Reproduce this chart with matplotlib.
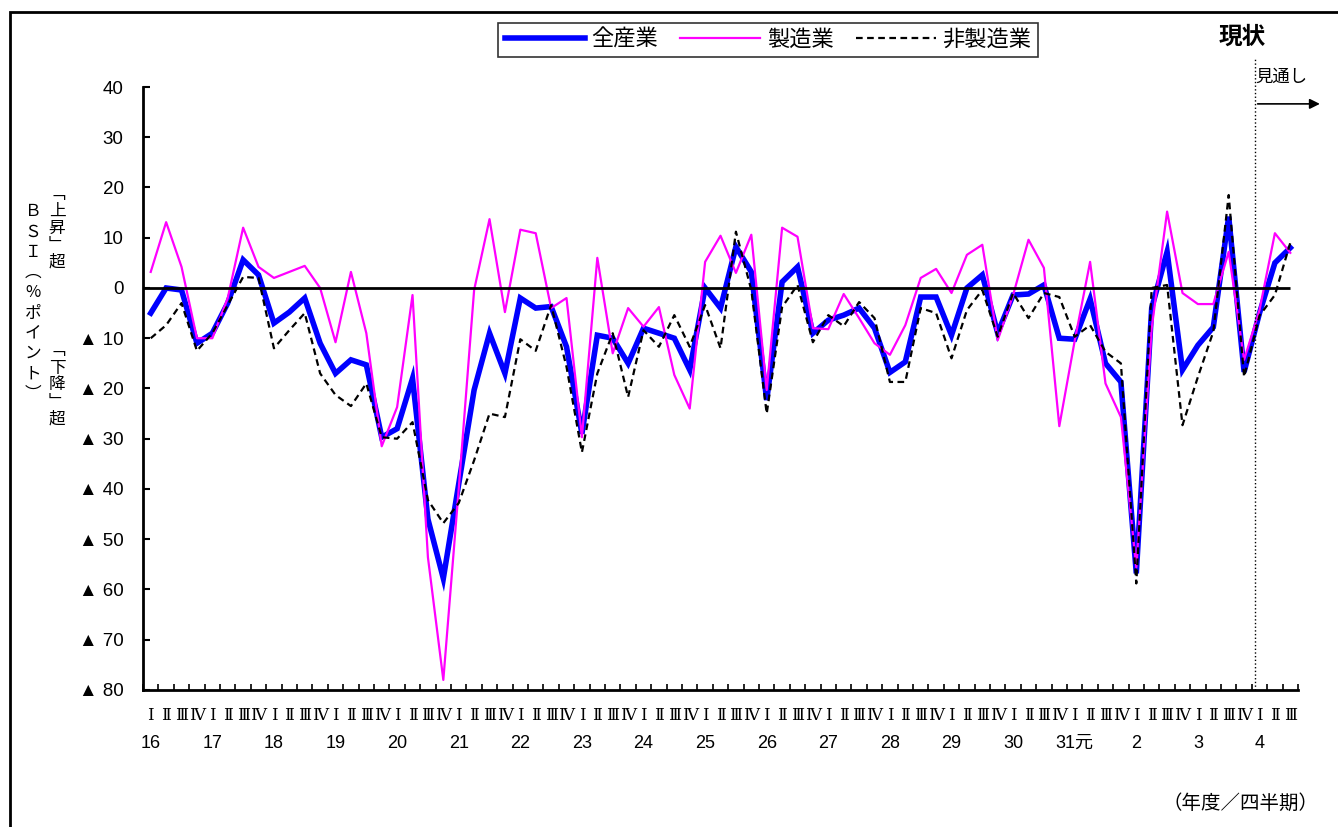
import numpy as np
import matplotlib
matplotlib.use("Agg")
import matplotlib.pyplot as plt
from matplotlib.patches import Rectangle

plt.rcParams['font.family'] = ['Liberation Sans', 'Noto Sans CJK JP']

# data (BSI, %ポイント), quarterly from H16 I to R4 III
years = ['16', '17', '18', '19', '20', '21', '22', '23', '24', '25', '26',
         '27', '28', '29', '30', '31元', '2', '3', '4']
n_quarters = [4] * 18 + [3]
quarter_names = ['Ⅰ', 'Ⅱ', 'Ⅲ', 'Ⅳ']

all_ind = [-5, 0, -0.4, -11, -9, -3, 5.6, 2.6, -7, -4.8, -2, -11, -17, -14.3, -15.3,
           -29.7, -28, -18, -46, -57.8, -39, -20.3, -9, -17, -2, -4, -3.7, -11.7,
           -29, -9.4, -10, -15, -8, -9, -10, -16.3, 0, -4, 8.2, 3.2, -22.3, 1.2,
           4.2, -9, -6.4, -5.4, -4, -8, -16.8, -14.7, -1.8, -1.8, -9.4, 0, 2.6,
           -9, -1.4, -1.2, 0.6, -10, -10.2, -2.2, -15, -18.7, -56.8, -4, 7.2,
           -16.3, -11.4, -7.8, 14.2, -16.7, -5, 5, 8]
manuf = [3.2, 13.1, 4.2, -10, -10, -2, 12, 4.2, 2, 3.2, 4.4, 0, -10.8, 3.2, -9,
         -31.5, -23.7, -1.4, -53.6, -78, -40, -0.4, 13.7, -4.8, 11.6, 10.9, -4,
         -2, -29.7, 6, -13, -4, -7.7, -3.8, -17.3, -24, 5.2, 10.4, 3, 10.6,
         -20.3, 12, 10.2, -8, -8.2, -1.2, -6, -11, -13.3, -7.4, 2, 3.8, -1, 6.6,
         8.6, -10.4, -1.4, 9.6, 4, -27.5, -10.5, 5.2, -19, -25.7, -55.6, -8,
         15.2, -1, -3.2, -3.2, 7.2, -14.3, -4.4, 10.9, 7]
nonmanuf = [-10, -7.4, -3, -12.5, -9, -3.4, 2.2, 2, -12, -8.4, -5, -17, -21.3,
            -23.5, -19, -29.7, -30, -26.7, -42.2, -46.8, -42.8, -34.3, -25,
            -25.7, -10.2, -12.5, -3.4, -15.7, -32.7, -17, -9, -21.7, -8.4, -11.7,
            -5.4, -11.7, -3.4, -12, 11.2, -0.4, -25, -3.8, 0.6, -10.8, -5.4,
            -7.6, -2.8, -6, -18.7, -18.7, -4, -5, -14, -4.4, -0.4, -9.7, -1,
            -6, -1, -1.8, -9.7, -7.4, -12.7, -15, -58.8, 0, 0.6, -27.3, -17.7,
            -8.7, 18.5, -17.7, -5.5, -1.4, 9]
yticks = [40, 30, 20, 10, 0, -10, -20, -30, -40, -50, -60, -70, -80]
forecast_split = 71.7   # 現状 / 見通し boundary

x = np.arange(len(all_ind))
qlabels = [quarter_names[q] for nq in n_quarters for q in range(nq)]
year_pos = np.cumsum([0] + n_quarters[:-1])

fig = plt.figure(figsize=(13.38, 8.27), dpi=100)
ax = fig.add_axes([0.1069, 0.1657, 0.8632, 0.7291])

ax.plot(x, all_ind, color='#0000FF', lw=4, label='全産業', solid_joinstyle='miter')
ax.plot(x, manuf, color='#FF00FF', lw=1.6, label='製造業')
ax.plot(x, nonmanuf, color='black', lw=1.6, dashes=(3, 2), label='非製造業')
ax.hlines(0, -0.5, x[-1], color='black', lw=2)

ax.set_xlim(-0.5, len(x) - 0.5)
ax.set_ylim(-80, 40)
for s in ['top', 'right']:
    ax.spines[s].set_visible(False)
for s in ['left', 'bottom']:
    ax.spines[s].set_linewidth(2)

ax.set_yticks(yticks)
ax.set_yticklabels([f'▲ {-v}' if v < 0 else str(v) for v in yticks], fontsize=13.5)
ax.tick_params(axis='y', direction='in', length=5, width=1.5, pad=14)

ax.set_xticks(x)
ax.set_xticklabels(qlabels, fontsize=12, family=['DejaVu Serif', 'Noto Sans CJK JP'])
ax.set_xticks(np.arange(len(x) + 1) - 0.5, minor=True)
ax.tick_params(axis='x', which='major', length=0, pad=12)
ax.tick_params(axis='x', which='minor', direction='in', length=4, width=1.2)

xt = ax.get_xaxis_transform()
for p, yl in zip(year_pos, years):
    ax.text(p, -0.088, yl, transform=xt, ha='center', va='center', fontsize=13,
            family=['Liberation Sans Narrow', 'Liberation Sans', 'Noto Sans CJK JP'])

# forecast separator
ax.plot([forecast_split, forecast_split], [0, 1.05], transform=xt, color='black',
        lw=1, ls=':', clip_on=False)
ax.annotate('', xy=(76.1, 0.972), xytext=(forecast_split, 0.972), xycoords=xt,
            textcoords=xt, annotation_clip=False,
            arrowprops=dict(arrowstyle='-|>', color='black', lw=1.2, mutation_scale=15))
ax.text(73.4, 1.017, '見通し', transform=xt, ha='center', va='center', fontsize=12.5)
ax.text(70.9, 1.083, '現状', transform=xt, ha='center', va='center', fontsize=17,
        fontweight='bold')

# vertical y labels
fig.text(33 / 1338, 1 - 303 / 827, '\n'.join('ＢＳＩ︵%ポイント︶'), ha='center',
         va='center', fontsize=12, linespacing=1.25, family=['Noto Sans CJK JP'])
fig.text(57 / 1338, 1 - 228 / 827, '\n'.join('﹁上昇﹂超'), ha='center', va='center',
         fontsize=12, linespacing=1.0, family=['Noto Sans CJK JP'])
fig.text(57 / 1338, 1 - 385 / 827, '\n'.join('﹁下降﹂超'), ha='center', va='center',
         fontsize=12, linespacing=1.0, family=['Noto Sans CJK JP'])

fig.text(1240 / 1338, 1 - 803 / 827, '（年度／四半期）', ha='center', va='center',
         fontsize=14)

leg = fig.legend(loc='center', bbox_to_anchor=(768 / 1338, 1 - 40 / 827), ncol=3,
                 fontsize=16, frameon=True, fancybox=False, edgecolor='black',
                 handlelength=3.6, handletextpad=0.3, columnspacing=1.0,
                 borderpad=0.3)
leg.get_frame().set_linewidth(1.2)

# outer frame
fig.patches.append(Rectangle((10 / 1338, -0.1), 1.2, 1.1 - 12 / 827, fill=False,
                             edgecolor='black', lw=2, transform=fig.transFigure))

fig.savefig('out.png', dpi=100)
